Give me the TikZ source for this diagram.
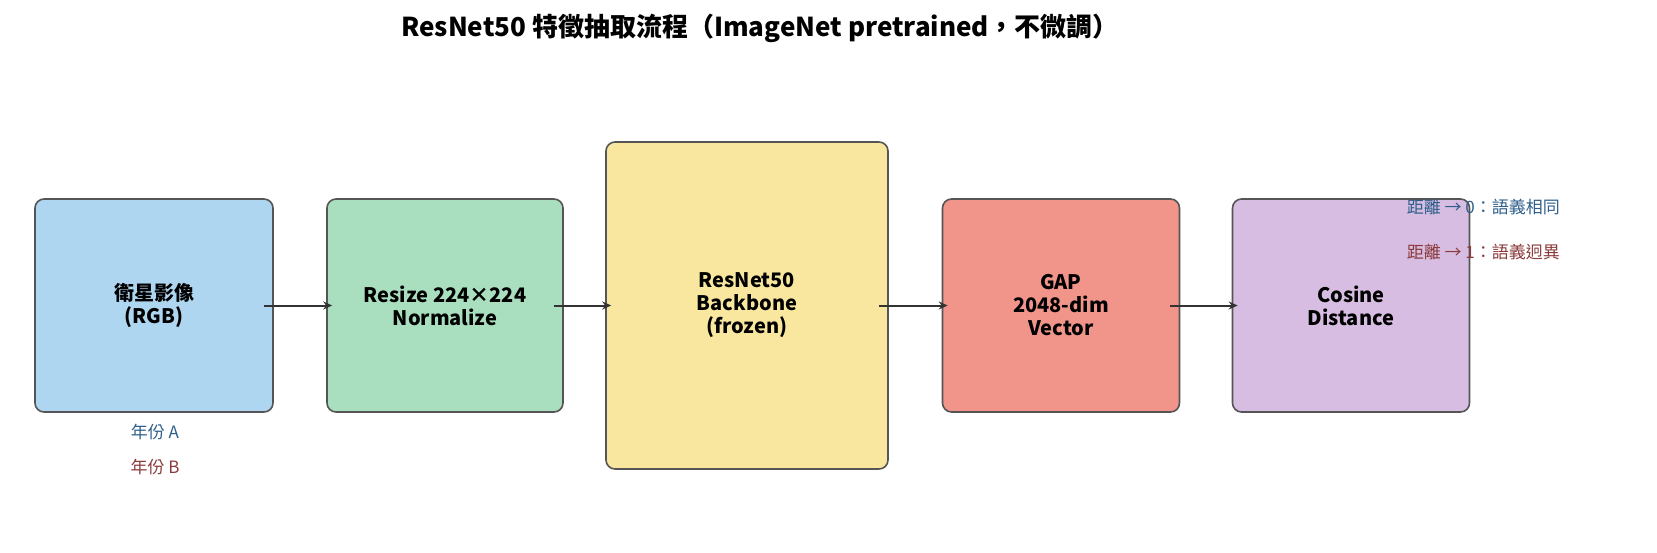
\documentclass[tikz,border=0pt]{standalone}
\usepackage{fontspec}
\setmainfont{Noto Sans CJK TC}
\definecolor{bA}{HTML}{AED6F1}
\definecolor{bB}{HTML}{A9DFBF}
\definecolor{bC}{HTML}{F9E79F}
\definecolor{bD}{HTML}{F1948A}
\definecolor{bE}{HTML}{D7BDE2}
\definecolor{edge}{HTML}{555555}
\definecolor{tblue}{HTML}{2E5F8A}
\definecolor{tred}{HTML}{8B3A3A}
\usetikzlibrary{arrows.meta}
\tikzset{
 box/.style={draw=edge,line width=1.6pt,rounded corners=9pt,inner sep=0pt,align=center,font=\fontsize{20}{23}\selectfont\bfseries},
 conn/.style={draw=black!80,line width=2pt,-{Stealth[length=9pt,width=8pt]}},
 lab/.style={inner sep=0pt,font=\fontsize{17}{20}\selectfont}
}
\begin{document}
\begin{tikzpicture}[x=1pt,y=-1pt]
\useasboundingbox (0,0) rectangle (1657,552);
\node[font=\fontsize{26}{30}\selectfont\bfseries] (title) at (760,28) {ResNet50 特徵抽取流程（ImageNet pretrained，不微調）};
\node[box,fill=bA,minimum width=238pt,minimum height=213pt] (a) at (154,305.5) {衛星影像\\(RGB)};
\node[box,fill=bB,minimum width=236pt,minimum height=213pt] (b) at (445,305.5) {Resize 224×224\\Normalize};
\node[box,fill=bC,minimum width=282pt,minimum height=327pt] (c) at (747,305.5) {ResNet50\\Backbone\\(frozen)};
\node[box,fill=bD,minimum width=237pt,minimum height=213pt] (d) at (1061,305.5) {GAP\\2048-dim\\Vector};
\node[box,fill=bE,minimum width=237pt,minimum height=213pt] (e) at (1351,305.5) {Cosine\\Distance};
\draw[conn] ([xshift=-10pt]a.east) -- ([xshift=6pt]b.west);
\draw[conn] ([xshift=-10pt]b.east) -- ([xshift=6pt]c.west);
\draw[conn] ([xshift=-10pt]c.east) -- ([xshift=6pt]d.west);
\draw[conn] ([xshift=-10pt]d.east) -- ([xshift=6pt]e.west);
\node[lab,text=tblue] (ya) at (155,432) {年份 A};
\node[lab,text=tred] (yb) at (155,467) {年份 B};
\node[lab,text=tblue,anchor=east] (r0) at (1560,207) {距離 → 0：語義相同};
\node[lab,text=tred,anchor=east] (r1) at (1560,252) {距離 → 1：語義迥異};
\end{tikzpicture}
\end{document}
